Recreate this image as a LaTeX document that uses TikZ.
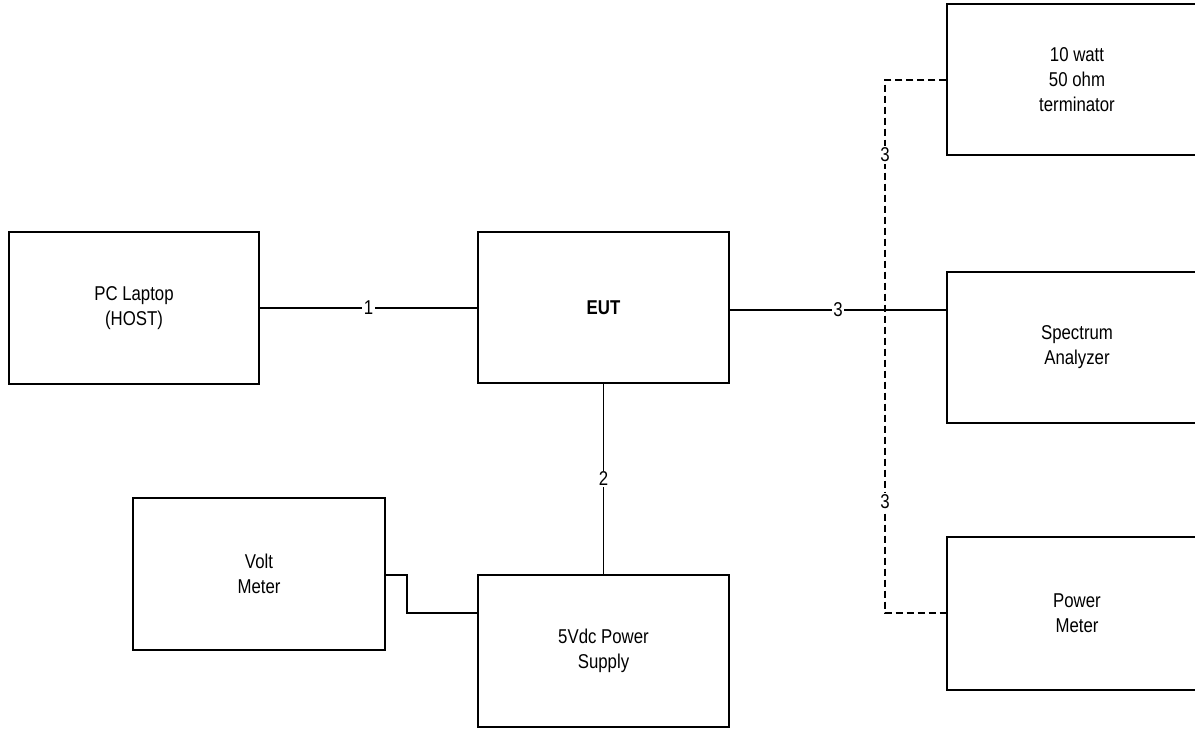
\documentclass[tikz,border=0pt]{standalone}
\usepackage{fontspec}
\setmainfont{Liberation Sans}[FakeStretch=0.84]
\begin{document}
\begin{tikzpicture}[x=1pt,y=-1pt,
  box/.style={draw, line width=1.2pt, inner sep=0pt, align=center,
    font=\fontsize{20}{25}\selectfont},
  wire/.style={line width=1.2pt},
  dwire/.style={line width=1.2pt, dash pattern=on 7pt off 4pt},
  lab/.style={fill=white, inner sep=1.5pt, font=\fontsize{20}{22}\selectfont}]
\useasboundingbox (0,0) rectangle (1195,730);
\clip (0,0) rectangle (1195,730);
\node[box, minimum width=250pt, minimum height=152pt] (pc) at (134,308) {PC Laptop\\(HOST)};
\node[box, minimum width=251pt, minimum height=151pt] (eut) at (603.5,307.5) {\textbf{EUT}};
\node[box, minimum width=260pt, minimum height=151pt] (term) at (1077,79.5) {10 watt\\50 ohm\\terminator};
\node[box, minimum width=260pt, minimum height=151pt] (spec) at (1077,347.5) {Spectrum\\Analyzer};
\node[box, minimum width=260pt, minimum height=153pt] (pm) at (1077,613.5) {Power\\Meter};
\node[box, minimum width=252pt, minimum height=152pt] (volt) at (259,574) {Volt\\Meter};
\node[box, minimum width=251pt, minimum height=152pt] (ps) at (603.5,651) {5Vdc Power\\Supply};
\coordinate (da) at (885,80);
\coordinate (db) at (885,613);
\draw[dwire] (term.west |- da) -- (da) -- (db) -- (pm.west |- db);
\node[lab] (l3a) at (885,155) {3};
\node[lab] (l3b) at (885,502) {3};
\draw[wire] (pc.east) -- node[lab] (l1) {1} (eut.west |- pc.east);
\draw[wire] (eut.south) -- node[lab] (l2) {2} (ps.north);
\draw[wire] (eut.east |- 0,310) -- node[lab] (l3) {3} (spec.west |- 0,310);
\coordinate (va) at (407,575);
\coordinate (vb) at (407,613);
\draw[wire] (volt.east |- va) -- (va) -- (vb) -- (ps.west |- vb);
\end{tikzpicture}
\end{document}
